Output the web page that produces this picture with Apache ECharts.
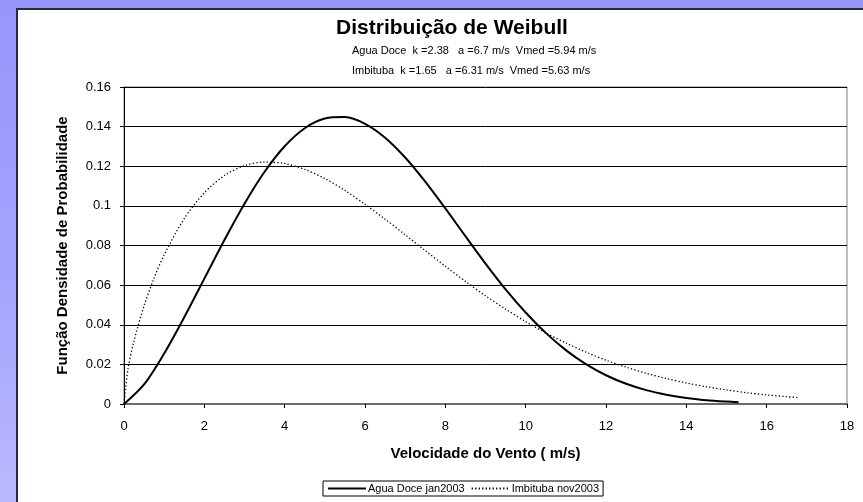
<!DOCTYPE html>
<html>
<head>
<meta charset="utf-8">
<script src="https://cdn.jsdelivr.net/npm/echarts@6/dist/echarts.min.js"></script>
<style>
  html, body { margin: 0; padding: 0; }
  body {
    width: 863px; height: 502px; overflow: hidden; position: relative;
    background: linear-gradient(to bottom, #9696fc 0%, #a4a4ff 55%, #b9b9ff 100%);
  }
  #panel {
    position: absolute; left: 16px; top: 8px; right: 0; bottom: 0;
    background: #fff; border-left: 2px solid #2a2a38; border-top: 2px solid #2a2a38;
  }
  #chart { position: absolute; left: 0; top: 0; width: 863px; height: 502px; }
</style>
</head>
<body>
<div id="panel"></div>
<div id="chart"></div>
<script>
// Wind speed (m/s) and probability density for each site
const aguaDoceSpeed = [0, 0.5, 1, 1.5, 2, 2.5, 3, 3.5, 4, 4.5, 5, 5.5, 6, 6.5, 7, 7.5, 8, 8.5, 9, 9.5,
  10, 10.5, 11, 11.5, 12, 12.5, 13, 13.5, 14, 14.5, 15, 15.3];
const aguaDoceDensity = [0, 0.0099, 0.0255, 0.0438, 0.0633, 0.0828, 0.1011, 0.1172, 0.1301, 0.1392,
  0.1441, 0.1448, 0.1414, 0.1344, 0.1244, 0.1122, 0.0987, 0.0847, 0.0709, 0.0579,
  0.0462, 0.0359, 0.0272, 0.0201, 0.0145, 0.0102, 0.0070, 0.0047, 0.0030, 0.0019, 0.0012, 0.0009];

const imbitubaSpeed = [0, 0.1, 0.25, 0.5, 0.75, 1, 1.5, 2, 2.5, 3, 3.5, 4, 4.5, 5, 5.5, 6, 6.5, 7, 7.5,
  8, 8.5, 9, 9.5, 10, 10.5, 11, 11.5, 12, 12.5, 13, 13.5, 14, 14.5, 15, 15.5, 16, 16.5, 16.8];
const imbitubaDensity = [0, 0.0177, 0.0319, 0.0496, 0.0636, 0.0753, 0.0936, 0.1066, 0.1153, 0.1203,
  0.1221, 0.1214, 0.1184, 0.1138, 0.1078, 0.1008, 0.0933, 0.0854, 0.0774,
  0.0695, 0.0619, 0.0546, 0.0479, 0.0416, 0.0359, 0.0308, 0.0262, 0.0221, 0.0186, 0.0155,
  0.0129, 0.0106, 0.0087, 0.0071, 0.0057, 0.0046, 0.0037, 0.0032];

const seriesNames = ['Agua Doce jan2003', 'Imbituba nov2003'];
const subtitleLines = [
  'Agua Doce  k =2.38   a =6.7 m/s  Vmed =5.94 m/s',
  'Imbituba  k =1.65   a =6.31 m/s  Vmed =5.63 m/s'
];

const pairs = (xs, ys) => xs.map((x, i) => [x, ys[i]]);
const font = 'Arial, "Liberation Sans", sans-serif';

const chart = echarts.init(document.getElementById('chart'), null, { renderer: 'canvas' });
chart.setOption({
  animation: false,
  backgroundColor: 'transparent',
  textStyle: { fontFamily: font, color: '#000' },
  title: [
    {
      text: 'Distribuição de Weibull',
      left: 447, top: 13, textAlign: 'center',
      textStyle: { fontFamily: font, fontSize: 21, fontWeight: 'bold', color: '#000' }
    },
    {
      text: subtitleLines.join('\n'),
      left: 347, top: 36,
      textStyle: { fontFamily: font, fontSize: 11, fontWeight: 'normal', color: '#000', lineHeight: 20 }
    }
  ],
  legend: {
    left: 323, top: 481,
    padding: [2, 4, 2, 4],
    itemGap: 6, itemWidth: 38, itemHeight: 10,
    borderColor: '#000', borderWidth: 1,
    backgroundColor: '#fff',
    itemStyle: { opacity: 0 },
    textStyle: { fontFamily: font, fontSize: 11, color: '#000', padding: [0, 0, 0, -3] },
    data: seriesNames
  },
  grid: { left: 124, right: 16, top: 87, bottom: 98, show: true, borderColor: '#808080', borderWidth: 1 },
  xAxis: {
    type: 'value', min: 0, max: 18, interval: 2,
    name: 'Velocidade do Vento ( m/s)', nameLocation: 'middle', nameGap: 42,
    nameTextStyle: { fontFamily: font, fontSize: 15, fontWeight: 'bold', color: '#000' },
    axisLine: { show: true, onZero: false, lineStyle: { color: '#6b6b6b', width: 2 } },
    axisTick: { show: true, inside: false, length: 4, lineStyle: { color: '#000' } },
    axisLabel: { fontFamily: font, fontSize: 13, color: '#000', margin: 16 },
    splitLine: { show: false }
  },
  yAxis: {
    type: 'value', min: 0, max: 0.16, interval: 0.02,
    name: 'Função Densidade de Probabilidade', nameLocation: 'middle', nameGap: 53.5, nameRotate: 90,
    nameTextStyle: { fontFamily: font, fontSize: 15, fontWeight: 'bold', color: '#000' },
    axisLine: { show: true, lineStyle: { color: '#000', width: 1 } },
    axisTick: { show: true, inside: false, length: 4, lineStyle: { color: '#000' } },
    axisLabel: { fontFamily: font, fontSize: 13, color: '#000', margin: 13 },
    splitLine: { show: true, lineStyle: { color: '#000', width: 1 } }
  },
  series: [
    {
      name: seriesNames[0], type: 'line', smooth: 0.3, showSymbol: false, symbol: 'none',
      data: pairs(aguaDoceSpeed, aguaDoceDensity),
      lineStyle: { color: '#000', width: 2 }, itemStyle: { color: '#000' }, z: 3
    },
    {
      name: seriesNames[1], type: 'line', smooth: 0.3, showSymbol: false, symbol: 'none',
      data: pairs(imbitubaSpeed, imbitubaDensity),
      lineStyle: { color: '#000', width: 1.3, type: [1.3, 2.2] }, itemStyle: { color: '#000' }, z: 2
    }
  ]
});
</script>
</body>
</html>
